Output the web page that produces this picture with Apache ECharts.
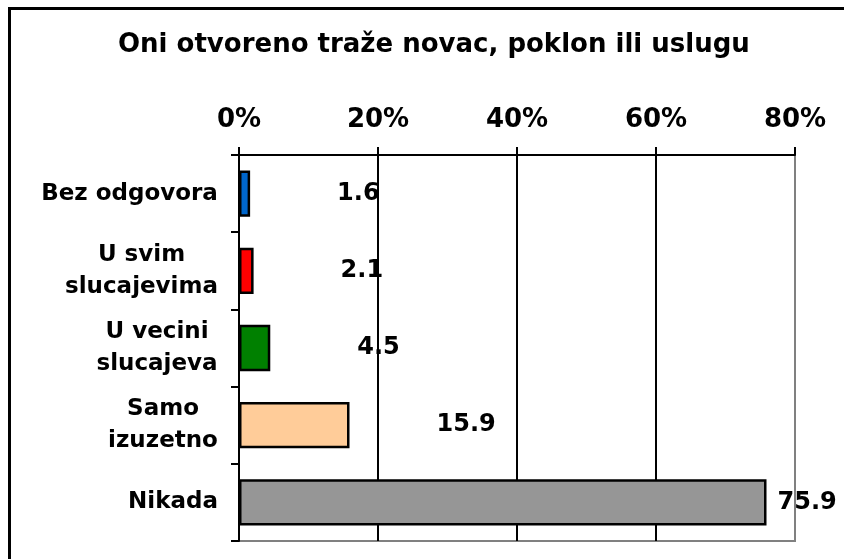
<!DOCTYPE html>
<html>
<head>
<meta charset="utf-8">
<script src="https://cdn.jsdelivr.net/npm/echarts@6/dist/echarts.min.js"></script>
<style>
  body { margin: 0; background: #fff; }
  #chart { width: 844px; height: 559px; }
</style>
</head>
<body>
<div id="chart"></div>
<script>
const title = 'Oni otvoreno traže novac, poklon ili uslugu';
const categories = ['Bez odgovora', 'U svim\nslucajevima', 'U vecini\nslucajeva', 'Samo\nizuzetno', 'Nikada'];
const values = [1.6, 2.1, 4.5, 15.9, 75.9];
const tickLabels = ['0%', '20%', '40%', '60%', '80%'];
const barColors = ['#0066CC', '#FF0000', '#008000', '#FFCC99', '#969696'];

const font = '"DejaVu Sans", Verdana, sans-serif';
const catSize = 23;

// width of the longest line of each category label, so lines center inside the block
const ctx = document.createElement('canvas').getContext('2d');
ctx.font = 'bold ' + catSize + 'px ' + font;
const rich = {};
categories.forEach((c, i) => {
    const w = Math.max(...c.split('\n').map(l => ctx.measureText(l).width));
    rich['c' + i] = { width: Math.ceil(w), align: 'center', fontSize: catSize, fontWeight: 'bold',
        fontFamily: font, color: '#000', lineHeight: 32 };
});

const chart = echarts.init(document.getElementById('chart'));
const option = {
    animation: false,
    backgroundColor: '#fff',
    title: {
        text: title,
        left: 113,
        top: 27,
        textStyle: { fontSize: 26, fontWeight: 'bold', fontFamily: font, color: '#000' }
    },
    graphic: [{
        type: 'polyline',
        shape: { points: [[9.5, 560], [9.5, 8.5], [845, 8.5]] },
        style: { stroke: '#000', lineWidth: 3, fill: null }
    }],
    grid: {
        left: 239, right: 49, top: 155, bottom: 18,
        show: true, borderColor: '#808080', borderWidth: 2, backgroundColor: 'transparent'
    },
    xAxis: {
        type: 'value',
        position: 'top',
        min: 0, max: 80, interval: 20,
        axisLine: { show: true, lineStyle: { color: '#000', width: 2 } },
        axisTick: { show: true, length: 8, lineStyle: { color: '#000', width: 2 } },
        axisLabel: {
            margin: 22,
            formatter: (v) => tickLabels[Math.round(v / 20)],
            fontSize: 26, fontWeight: 'bold', fontFamily: font, color: '#000'
        },
        splitLine: { show: true, lineStyle: { color: ['#000', '#000', '#000', '#000', '#808080'], width: 2 } }
    },
    yAxis: {
        type: 'category',
        inverse: true,
        data: categories,
        axisLine: { show: true, lineStyle: { color: '#000', width: 2 } },
        axisTick: { show: true, length: 8, lineStyle: { color: '#000', width: 2 } },
        axisLabel: {
            margin: 21,
            interval: 0,
            formatter: (v, i) => v.split('\n').map(l => '{c' + i + '|' + l + '}').join('\n'),
            rich: rich
        }
    },
    series: [{
        type: 'bar',
        barWidth: '60%',
        data: values.map((v, i) => ({
            value: v,
            itemStyle: { color: barColors[i] },
            label: { distance: i === values.length - 1 ? 11 : 87 }
        })),
        itemStyle: { borderColor: '#000', borderWidth: 2.5 },
        label: {
            show: true,
            position: 'right',
            formatter: (p) => p.value.toFixed(1),
            fontSize: 24, fontWeight: 'bold', fontFamily: font, color: '#000'
        }
    }]
};
option && chart.setOption(option);
</script>
</body>
</html>
